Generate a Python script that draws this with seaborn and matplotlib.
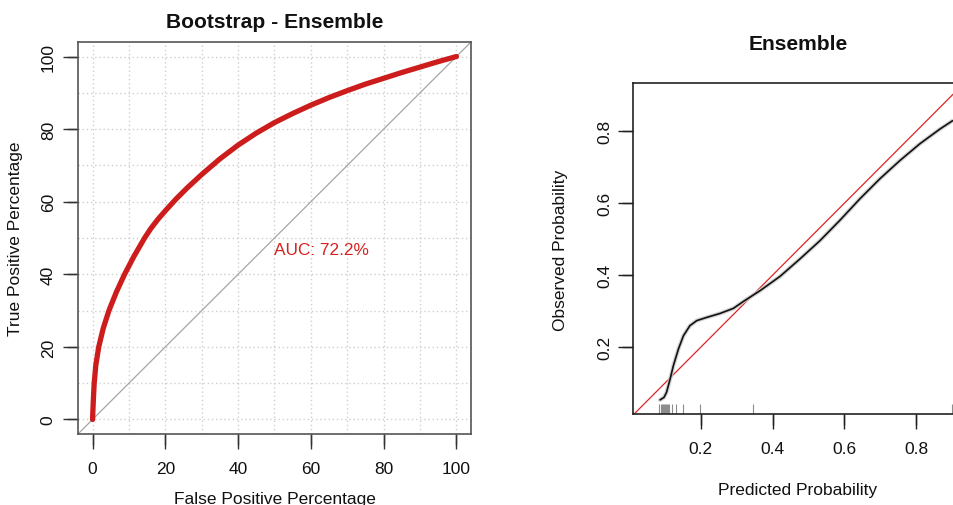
import numpy as np
import pandas as pd
import matplotlib
matplotlib.use("Agg")
import matplotlib.pyplot as plt
import seaborn as sns

# ---------------- data ----------------
roc_fpr = [0, 0.2, 0.45, 0.9, 1.7, 2.9, 4.5, 6.5, 8.8, 11.4, 14.3, 16, 18, 20, 23, 26, 30,
           35, 40, 45, 50, 55, 60, 65, 70, 75, 80, 85, 90, 95, 100]
roc_tpr = [0, 5, 10, 15, 20, 25, 30, 35, 40, 45, 50, 52.6, 55.2, 57.5, 60.8, 63.8, 67.5,
           71.8, 75.6, 78.9, 81.8, 84.3, 86.6, 88.7, 90.6, 92.4, 94.0, 95.6, 97.1, 98.6, 100]
auc_label = "AUC: 72.2%"
roc_ticks = [0, 20, 40, 60, 80, 100]

cal_pred = [0.087, 0.098, 0.105, 0.115, 0.124, 0.138, 0.152, 0.170, 0.189, 0.217,
            0.254, 0.291, 0.323, 0.365, 0.421, 0.476, 0.532, 0.587, 0.643, 0.699,
            0.754, 0.810, 0.866, 0.901]
cal_obs = [0.054, 0.061, 0.075, 0.112, 0.149, 0.195, 0.232, 0.260, 0.274, 0.283,
           0.294, 0.308, 0.330, 0.357, 0.397, 0.445, 0.496, 0.552, 0.612, 0.668,
           0.718, 0.765, 0.806, 0.829]
rug_x = [0.085, 0.089, 0.092, 0.095, 0.097, 0.100, 0.103, 0.106, 0.109, 0.112,
         0.119, 0.131, 0.151, 0.198, 0.345, 0.900]
cal_ticks = [0.2, 0.4, 0.6, 0.8]
cal_tick_labels = ["0.2", "0.4", "0.6", "0.8"]

# ---------------- style ----------------
sns.set_style("ticks")
plt.rcParams["font.family"] = ["Liberation Sans", "DejaVu Sans"]

W, H = 954, 506
TICK_PX = 11
fig = plt.figure(figsize=(W / 100, H / 100), dpi=100)

def fx(px):
    return px / W

def fy(py):
    return (H - py) / H

def style_ticks(ax, xt, yt, xl, yl, tick_color, xpad, ypad):
    ax.set_xticks(xt)
    ax.set_yticks(yt)
    ax.set_xticklabels(xl)
    ax.set_yticklabels(yl, rotation=90, va="center")
    ax.tick_params(axis="both", which="major", length=TICK_PX, width=1.0,
                   color=tick_color, labelsize=12.5, labelcolor="#111111",
                   direction="out", bottom=True, left=True)
    ax.tick_params(axis="x", which="major", pad=xpad)
    ax.tick_params(axis="y", which="major", pad=ypad)
    # make sure the tick marks themselves are drawn outside the frame
    bb = ax.get_position()
    hx = TICK_PX / (bb.height * H)
    hy = TICK_PX / (bb.width * W)
    for x in xt:
        ax.plot([x, x], [0, -hx], transform=ax.get_xaxis_transform(), clip_on=False,
                color=tick_color, linewidth=1.0, solid_capstyle="butt")
    for y in yt:
        ax.plot([0, -hy], [y, y], transform=ax.get_yaxis_transform(), clip_on=False,
                color=tick_color, linewidth=1.0, solid_capstyle="butt")

# ---------------- left: ROC ----------------
axL = fig.add_axes([fx(78), fy(435), fx(471) - fx(78), fy(43) - fy(435)])
axL.set_xlim(-4, 104)
axL.set_ylim(-4, 104)

axL.set_xticks(np.arange(0, 101, 10), minor=True)
axL.set_yticks(np.arange(0, 101, 10), minor=True)
axL.grid(True, which="both", color="#CFCFCF", linestyle=(0, (1, 2)), linewidth=1.0)
axL.tick_params(axis="both", which="minor", length=0)
axL.set_axisbelow(True)

axL.axline((0, 0), slope=1, color="#A6A6A6", linewidth=0.9)
roc_df = pd.DataFrame({"fpr": roc_fpr, "tpr": roc_tpr})
sns.lineplot(data=roc_df, x="fpr", y="tpr", sort=False, ax=axL, color="#CC1C1C",
             linewidth=3.8, solid_capstyle="round", solid_joinstyle="round")
axL.text(50, 48.8, auc_label, color="#D42222", fontsize=12.4, ha="left", va="top")

style_ticks(axL, roc_ticks, roc_ticks, [str(t) for t in roc_ticks],
            [str(t) for t in roc_ticks], "#333333", 8.6, 5)
axL.set_xlim(-4, 104)
axL.set_ylim(-4, 104)
axL.set_xlabel("")
axL.set_ylabel("")
for s in axL.spines.values():
    s.set_color("#555555")
    s.set_linewidth(1.2)
    s.set_visible(True)

fig.text(fx(274.5), fy(28.5), "Bootstrap - Ensemble", ha="center", va="baseline",
         fontsize=15.1, fontweight="bold", color="#111111")
fig.text(fx(274.5), fy(504), "False Positive Percentage", ha="center", va="baseline",
         fontsize=12.5, color="#111111")
fig.text(fx(16), fy(239), "True Positive Percentage", ha="center", va="center",
         rotation=90, fontsize=12.5, color="#111111")

# ---------------- right: calibration ----------------
axR = fig.add_axes([fx(632.7), fy(415.3), fx(964) - fx(632.7), fy(84.3) - fy(415.3)])
axR.set_xlim(0.0108, 0.933)
axR.set_ylim(0.0139, 0.933)

axR.axline((0, 0), slope=1, color="#E02424", linewidth=0.9)
cal_df = pd.DataFrame({"pred": cal_pred, "obs": cal_obs})
sns.lineplot(data=cal_df, x="pred", y="obs", sort=False, ax=axR, color="#C8C8C8",
             linewidth=3.0, alpha=0.8, solid_joinstyle="round")
sns.lineplot(data=cal_df, x="pred", y="obs", sort=False, ax=axR, color="#111111",
             linewidth=1.2, solid_joinstyle="round")
sns.rugplot(x=rug_x, ax=axR, height=0.03, color="#8C8C8C", linewidth=0.8)

style_ticks(axR, cal_ticks, cal_ticks, cal_tick_labels, cal_tick_labels,
            "#222222", 8, 3.5)
axR.set_xlim(0.0108, 0.933)
axR.set_ylim(0.0139, 0.933)
axR.set_xlabel("")
axR.set_ylabel("")
axR.grid(False)
for s in axR.spines.values():
    s.set_color("#222222")
    s.set_linewidth(1.2)
    s.set_visible(True)

fig.text(fx(798), fy(50), "Ensemble", ha="center", va="baseline",
         fontsize=15.1, fontweight="bold", color="#111111")
fig.text(fx(798), fy(495), "Predicted Probability", ha="center", va="baseline",
         fontsize=12.5, color="#111111")
fig.text(fx(560.7), fy(250), "Observed Probability", ha="center", va="center",
         rotation=90, fontsize=12.5, color="#111111")

fig.savefig("out.png", dpi=100, facecolor="white")
